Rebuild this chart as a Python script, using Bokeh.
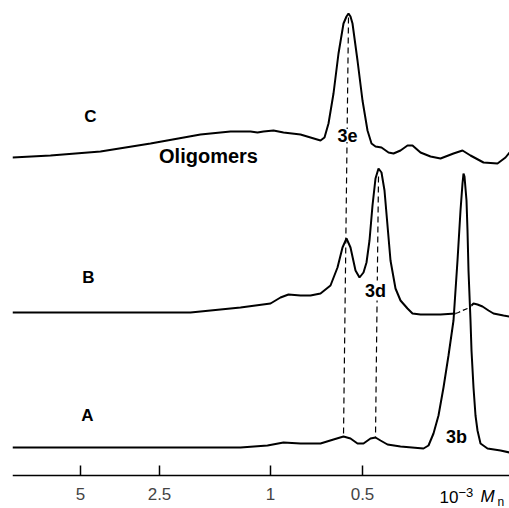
import numpy as np
from bokeh.plotting import figure
from bokeh.models import Range1d, FixedTicker, Label
from bokeh.core.properties import value
from bokeh.embed import file_html
from bokeh.resources import INLINE

# ---- data: elution position (arbitrary units) and detector signal per trace ----
a_x = [0.0, 8.8, 18.8, 22.8, 25.5, 27.1, 28.8, 30.8, 32.1, 33.1,
       33.8, 34.5, 35.1, 35.8, 36.3, 36.8, 37.5, 38.8, 41.1, 41.6,
       42.1, 42.6, 43.1, 43.6, 44.1, 44.5, 44.8, 45.0, 45.1, 45.2,
       45.4, 45.5, 45.6, 45.8, 45.9, 46.1, 46.3, 46.5, 46.8, 47.5, 48.8, 49.7]
a_sig = [0, 0, 0, 0, 0.2, 0.5, 0.4, 0.4, 0.8, 1.1,
         0.9, 0.4, 0.4, 0.9, 1.0, 0.7, 0.3, 0.1, -0.1, 0.2,
         1.4, 3.2, 6.0, 9.2, 12.7, 18.7, 23.7, 26.4, 27.4, 27.1,
         24.7, 21.7, 17.7, 12.7, 9.7, 6.0, 3.2, 1.7, 0.4, -0.1, -0.3, -0.5]

b_x = [0.0, 8.8, 17.8, 22.8, 25.8, 26.8, 27.6, 28.8, 29.8, 30.8,
       31.8, 32.5, 33.0, 33.4, 33.8, 34.3, 34.7, 35.1, 35.4, 35.7,
       36.0, 36.3, 36.6, 36.9, 37.2, 37.5, 37.8, 38.3, 38.8, 39.5,
       40.0, 40.8, 42.8, 44.3, 44.6, 45.0, 45.5, 45.9, 46.1, 46.5,
       47.0, 47.6, 48.1, 49.1, 49.7]
b_sig = [0, 0, 0, 0.5, 0.9, 1.5, 1.8, 1.7, 1.7, 1.9,
         2.7, 4.5, 6.5, 7.4, 6.5, 4.2, 3.5, 4.0, 5.0, 7.2,
         10.7, 13.4, 14.4, 14.0, 12.2, 8.7, 5.2, 2.4, 1.2, 0.4,
         -0.1, -0.2, -0.2, -0.1, 0, 0.2, 0.4, 0.7, 0.9, 0.8,
         0.6, 0.2, -0.1, -0.3, -0.4]
b_hidden = (44.3, 45.9)   # part of trace B drawn dashed behind peak 3b

c_x = [0.0, 3.8, 8.8, 13.8, 18.8, 21.8, 23.8, 24.5, 25.1, 26.1,
       27.1, 28.8, 30.8, 31.2, 31.6, 32.1, 32.6, 33.1, 33.4, 33.6,
       33.8, 34.0, 34.5, 35.0, 35.5, 35.9, 36.3, 36.9, 37.6, 38.1,
       38.8, 39.5, 40.0, 40.8, 41.8, 42.8, 44.1, 45.0, 45.8, 47.1,
       48.5, 49.3, 49.7]
c_sig = [0.0, 0.2, 0.6, 1.4, 2.3, 2.6, 2.6, 2.5, 2.6, 2.7,
         2.5, 2.3, 1.7, 2.0, 3.4, 6.4, 10.4, 13.4, 14.1, 14.4,
         14.1, 13.4, 9.7, 5.7, 2.7, 1.4, 1.1, 1.0, 0.5, 0.4,
         0.7, 1.2, 1.2, 0.5, 0.1, -0.1, 0.4, 0.7, 0.2, -0.5,
         -0.6, 0.0, 0.5]

offsets = {"A": 2.8, "B": 16.3, "C": 31.8}

tick_pos = [6.8, 14.7, 25.8, 35.0]
tick_labels = ["5", "2.5", "1", "0.5"]

# peak marker lines (x at top, y at top, x at bottom, y at bottom)
mark_x0 = [33.6, 36.6]
mark_y0 = [45.8, 29.9]
mark_x1 = [33.1, 36.3]
mark_y1 = [3.9, 3.8]

trace_names = ["A", "B", "C"]
trace_name_x = [7.5, 7.6, 7.8]
trace_name_y = [6.0, 19.8, 35.9]

peak_names = ["3e", "3d", "3b"]
peak_name_x = [33.5, 36.3, 44.4]
peak_name_y = [34.0, 18.5, 3.9]

FONT = "Liberation Sans"

p = figure(frame_width=497, frame_height=508,
           x_range=Range1d(0, 49.7), y_range=Range1d(-3.3, 47.5),
           output_backend="svg", toolbar_location=None, y_axis_location=None,
           min_border_left=12, min_border_right=0, min_border_top=0,
           min_border_bottom=0)
p.grid.visible = False
p.outline_line_color = None

# marker lines
p.segment(mark_x0, mark_y0, mark_x1, mark_y1, line_color="black",
          line_width=1.2, line_dash="6 4")

# trace A
p.line(a_x, np.array(a_sig) + offsets["A"], line_color="black", line_width=2)

# trace B (solid / dashed behind peak / solid)
bx = np.array(b_x)
by = np.array(b_sig) + offsets["B"]
m1 = bx <= b_hidden[0]
m2 = (bx >= b_hidden[0]) & (bx <= b_hidden[1])
m3 = bx >= b_hidden[1]
p.line(bx[m1], by[m1], line_color="black", line_width=2)
p.line(bx[m2], by[m2], line_color="black", line_width=1.3, line_dash="5 3")
p.line(bx[m3], by[m3], line_color="black", line_width=2)

# trace C
p.line(c_x, np.array(c_sig) + offsets["C"], line_color="black", line_width=2)

# trace names
p.text(trace_name_x, trace_name_y, text=trace_names, text_font=value(FONT),
       text_font_style="bold", text_font_size="17px", text_align="center",
       text_baseline="middle", text_color="black")
p.text([19.6], [32.0], text=["Oligomers"], text_font=value(FONT),
       text_font_style="bold", text_font_size="20px", text_align="center",
       text_baseline="middle", text_color="black")

for t, x, y in zip(peak_names, peak_name_x, peak_name_y):
    p.add_layout(Label(x=x, y=y, text=t, text_font=FONT, text_font_style="bold",
                       text_font_size="18px", text_align="center",
                       text_baseline="middle", text_color="black",
                       background_fill_color="white"))

# axis, placed at the zero line of the data range
ax = p.xaxis[0]
ax.fixed_location = 0
ax.ticker = FixedTicker(ticks=tick_pos)
ax.major_label_overrides = {t: l for t, l in zip(tick_pos, tick_labels)}
ax.minor_tick_line_color = None
ax.major_tick_in = 10
ax.major_tick_out = 0
ax.axis_line_width = 1.5
ax.major_tick_line_width = 1.5
ax.major_label_text_font = FONT
ax.major_label_text_font_size = "17px"
ax.major_label_standoff = 12

# axis caption 10^-3 Mn
p.text([42.7], [-2.1], text=["10"], text_font=value(FONT),
       text_font_size="17px", text_baseline="middle", text_align="left")
p.text([44.6], [-1.7], text=["\u22123"], text_font=value(FONT),
       text_font_size="13px", text_baseline="middle", text_align="left")
p.text([46.8], [-2.1], text=["M"], text_font=value(FONT),
       text_font_style="italic", text_font_size="17px",
       text_baseline="middle", text_align="left")
p.text([48.5], [-2.6], text=["n"], text_font=value(FONT),
       text_font_size="12px", text_baseline="middle", text_align="left")

open("out.html", "w").write(file_html(p, INLINE))
